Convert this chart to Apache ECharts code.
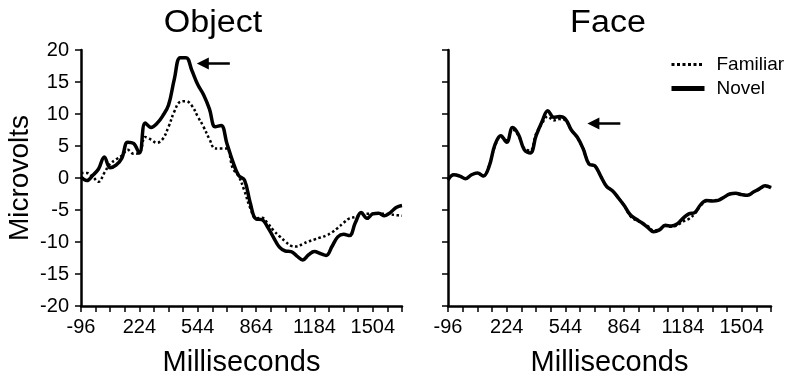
<!DOCTYPE html>
<html>
<head>
<meta charset="utf-8">
<title>Object / Face ERP</title>
<script src="https://cdn.jsdelivr.net/npm/echarts@6/dist/echarts.min.js"></script>
<style>
  html, body { margin: 0; background: #fff; }
  #chart { width: 794px; height: 378px; }
</style>
</head>
<body>
<div id="chart"></div>
<script>
// sample times (ms), every 32 ms
const times = [-96, -64, -32, 0, 32, 64, 96, 128, 160, 192, 224, 256, 288, 320, 352, 384,
  416, 448, 480, 512, 544, 576, 608, 640, 672, 704, 736, 768, 800, 832, 864, 896,
  928, 960, 992, 1024, 1056, 1088, 1120, 1152, 1184, 1216, 1248, 1280, 1312, 1344,
  1376, 1408, 1440, 1472, 1504, 1536, 1568, 1600, 1632, 1664]

// microvolts
const objectFamiliar = [0.8, 0.8, 0.2, -0.6, 0.8, 2.2, 2.9, 3.5, 4.4, 3.8, 3.9, 6.4, 6.0, 5.5, 6.1, 8.0,
  10.4, 11.9, 12.0, 11.3, 9.6, 8.0, 6.1, 4.6, 4.6, 4.6, 1.5, 0.3, -2.0, -4.7, -6.3, -6.2,
  -7.1, -8.2, -9.1, -9.9, -10.6, -10.7, -10.3, -9.9, -9.6, -9.3, -9.0, -8.5, -7.8, -7.0,
  -6.3, -6.1, -5.8, -5.6, -5.6, -5.6, -5.6, -5.7, -5.8, -5.9]
const objectNovel = [0.15, -0.4, 0.4, 1.4, 3.3, 1.6, 2.0, 3.1, 5.6, 5.4, 3.9, 8.6, 7.9, 8.5, 9.7, 11.4,
  15.5, 18.8, 18.8, 16.8, 14.6, 13.0, 10.8, 8.0, 8.2, 5.4, 2.6, 0.4, -0.3, -3.9, -6.4, -6.5,
  -7.7, -9.3, -10.8, -11.4, -11.5, -12.2, -12.8, -12.0, -11.5, -11.8, -12.1, -10.7, -9.2, -8.8,
  -9.0, -7.0, -5.4, -6.3, -5.6, -5.5, -5.9, -5.4, -4.6, -4.3]
const faceFamiliar = [-0.3, 0.5, 0.3, -0.1, 0.5, 0.8, 0.3, 1.9, 5.0, 6.4, 5.9, 7.6, 6.6, 4.6, 4.3, 6.9,
  8.5, 9.6, 9.0, 9.2, 9.0, 7.5, 6.3, 4.6, 2.2, 1.9, 0.3, -1.3, -2.0, -3.1, -4.3, -5.9,
  -6.6, -7.0, -7.5, -8.2, -8.0, -7.5, -7.6, -7.4, -6.8, -6.4, -5.6, -4.3, -3.6, -3.5,
  -3.4, -3.0, -2.5, -2.4, -2.6, -2.6, -2.2, -1.8, -1.3, -1.6]
const faceNovel = [-0.3, 0.5, 0.3, -0.1, 0.5, 0.8, 0.3, 1.8, 5.2, 6.6, 5.6, 7.9, 6.8, 4.4, 3.9, 6.6,
  8.8, 10.5, 9.5, 9.6, 9.2, 7.5, 6.4, 4.6, 2.2, 1.9, 0.3, -1.3, -2.0, -3.1, -4.3, -5.7,
  -6.4, -7.0, -7.7, -8.4, -8.1, -7.4, -7.5, -7.2, -6.3, -5.6, -5.4, -4.2, -3.5, -3.6,
  -3.5, -3.0, -2.5, -2.4, -2.6, -2.7, -2.2, -1.7, -1.2, -1.5]

// arrows: [from ms, to ms, microvolts]
const objectArrow = [720, 572, 17.9]
const faceArrow = [843, 696, 8.5]

const T0 = -96     // first tick, axis is drawn as ms after T0
const T_END = 1664
const font = 'Liberation Sans, Arial, sans-serif'

function pts(vals) {
  return times.map((t, i) => [t - T0, vals[i]])
}

function timeAxis(gridIndex) {
  return {
    type: 'value',
    gridIndex: gridIndex,
    min: 0,
    max: T_END - T0,
    interval: 80,
    name: 'Milliseconds',
    nameLocation: 'middle',
    nameGap: 42,
    nameTextStyle: { fontSize: 29, color: '#000', fontFamily: font },
    axisLine: { onZero: false, lineStyle: { color: '#000', width: 2.5 } },
    axisTick: { length: 6, lineStyle: { color: '#000', width: 1.5 } },
    axisLabel: {
      margin: 11,
      fontSize: 20,
      color: '#000',
      fontFamily: font,
      formatter: v => (v % 320 === 0 ? String(v + T0) : '')
    },
    splitLine: { show: false }
  }
}

function voltAxis(gridIndex, showLabels) {
  return {
    type: 'value',
    gridIndex: gridIndex,
    min: -20,
    max: 20,
    interval: 5,
    name: showLabels ? 'Microvolts' : '',
    nameLocation: 'middle',
    nameGap: 47,
    nameTextStyle: { fontSize: 28, color: '#000', fontFamily: font },
    axisLine: { show: true, lineStyle: { color: '#000', width: 2.5 } },
    axisTick: { show: true, length: 6, lineStyle: { color: '#000', width: 1.5 } },
    axisLabel: { show: showLabels, margin: 12, fontSize: 20, color: '#000', fontFamily: font },
    splitLine: { show: false }
  }
}

function arrow(a) {
  return {
    silent: true,
    symbol: ['none', 'triangle'],
    symbolSize: 12,
    label: { show: false },
    lineStyle: { color: '#000', width: 2.5, type: 'solid' },
    data: [[{ coord: [a[0] - T0, a[2]] }, { coord: [a[1] - T0, a[2]] }]]
  }
}

function familiar(idx, vals) {
  return {
    name: 'Familiar', type: 'line', xAxisIndex: idx, yAxisIndex: idx,
    data: pts(vals), smooth: 0.4, symbol: 'none',
    lineStyle: { color: '#000', width: 2.5, type: [2.5, 2.5] },
    itemStyle: { color: '#000' }
  }
}

function novel(idx, vals, a) {
  return {
    name: 'Novel', type: 'line', xAxisIndex: idx, yAxisIndex: idx,
    data: pts(vals), smooth: 0.4, symbol: 'none',
    lineStyle: { color: '#000', width: 3.5 },
    itemStyle: { color: '#000' },
    markLine: arrow(a)
  }
}

function title(text, x) {
  return {
    type: 'text', x: x, y: 23, scaleX: 1.1,
    style: { text: text, align: 'center', verticalAlign: 'middle', fontSize: 31, fontFamily: font, fill: '#000' }
  }
}

const chart = echarts.init(document.getElementById('chart'))
chart.setOption({
  animation: false,
  backgroundColor: '#fff',
  textStyle: { fontFamily: font },
  graphic: [title('Object', 213), title('Face', 608)],
  legend: {
    data: [
      { name: 'Familiar', lineStyle: { width: 3, type: [3, 2.5] } },
      { name: 'Novel', lineStyle: { width: 5 } }
    ],
    orient: 'vertical',
    left: 669,
    top: 55,
    padding: 0,
    itemWidth: 33,
    itemHeight: 14,
    itemGap: 5,
    itemStyle: { opacity: 0 },
    textStyle: { fontSize: 19, color: '#000', fontFamily: font, padding: [0, 0, 0, 7] }
  },
  grid: [
    { left: 81, top: 50, width: 321, height: 256, outerBoundsMode: 'none' },
    { left: 448, top: 50, width: 323, height: 256, outerBoundsMode: 'none' }
  ],
  xAxis: [timeAxis(0), timeAxis(1)],
  yAxis: [voltAxis(0, true), voltAxis(1, false)],
  series: [
    familiar(0, objectFamiliar),
    novel(0, objectNovel, objectArrow),
    familiar(1, faceFamiliar),
    novel(1, faceNovel, faceArrow)
  ]
})
</script>
</body>
</html>
